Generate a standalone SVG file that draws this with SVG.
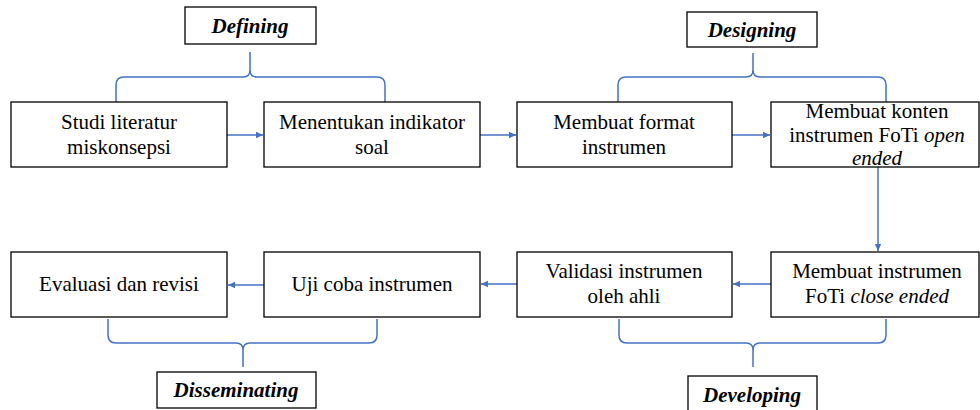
<svg xmlns="http://www.w3.org/2000/svg" width="980" height="410" viewBox="0 0 980 410">
<style>
.box{fill:#fff;stroke:#000;stroke-width:1.3}
.t{font-family:'Liberation Serif',Tinos,'Times New Roman',Times,'DejaVu Serif',serif;font-size:21px;fill:#000;text-anchor:middle}
.h{font-weight:bold;font-style:italic}
.i{font-style:italic}
.c{fill:none;stroke:#4472C4;stroke-width:1.5}
</style>
<defs>
<marker id="ah" markerWidth="8" markerHeight="8" refX="7" refY="4" orient="auto" markerUnits="userSpaceOnUse">
<path d="M0,0.8 L7,4 L0,7.2 Z" fill="#4472C4"/>
</marker>
</defs>
<rect width="980" height="410" fill="#fff"/>
<g id="connectors">
<line class="c" x1="227" y1="135" x2="263" y2="135" marker-end="url(#ah)"/>
<line class="c" x1="480" y1="135" x2="516" y2="135" marker-end="url(#ah)"/>
<line class="c" x1="732" y1="135" x2="770" y2="135" marker-end="url(#ah)"/>
<line class="c" x1="878" y1="167" x2="878" y2="251" marker-end="url(#ah)"/>
<line class="c" x1="771" y1="284" x2="733" y2="284" marker-end="url(#ah)"/>
<line class="c" x1="517" y1="284" x2="481" y2="284" marker-end="url(#ah)"/>
<line class="c" x1="264" y1="285" x2="228" y2="285" marker-end="url(#ah)"/>
<path class="c" d="M116,102 L116,85 Q116,77 124,77 L243,77 Q250,77 250,70 L250,52 M250,70 Q250,77 257,77 L377,77 Q385,77 385,85 L385,102"/>
<path class="c" d="M618,102 L618,85 Q618,77 626,77 L746,77 Q753,77 753,70 L753,53 M753,70 Q753,77 760,77 L878,77 Q886,77 886,85 L886,102"/>
<path class="c" d="M108,319 L108,335 Q108,343 116,343 L236,343 Q243,343 243,350 L243,367 M243,350 Q243,343 250,343 L369,343 Q377,343 377,335 L377,319"/>
<path class="c" d="M619,319 L619,335 Q619,343 627,343 L746,343 Q753,343 753,350 L753,367 M753,350 Q753,343 760,343 L878,343 Q886,343 886,335 L886,319"/>
</g>
<g id="defining">
<rect class="box" x="185" y="7" width="131" height="37"/>
<text class="t h" x="250" y="33">Defining</text>
</g>
<g id="designing">
<rect class="box" x="687" y="12" width="130" height="35"/>
<text class="t h" x="752" y="37">Designing</text>
</g>
<g id="disseminating">
<rect class="box" x="157" y="372" width="159" height="36"/>
<text class="t h" x="236" y="397">Disseminating</text>
</g>
<g id="developing">
<rect class="box" x="688" y="376" width="129" height="40"/>
<text class="t h" x="752" y="402">Developing</text>
</g>
<g id="n1">
<rect class="box" x="11" y="102" width="216" height="65"/>
<text class="t" x="119" y="129">Studi literatur</text>
<text class="t" x="119" y="154">miskonsepsi</text>
</g>
<g id="n2">
<rect class="box" x="264" y="102" width="216" height="65"/>
<text class="t" x="372" y="129">Menentukan indikator</text>
<text class="t" x="372" y="154">soal</text>
</g>
<g id="n3">
<rect class="box" x="517" y="102" width="215" height="65"/>
<text class="t" x="624" y="129">Membuat format</text>
<text class="t" x="624" y="154">instrumen</text>
</g>
<g id="n4">
<rect class="box" x="771" y="102" width="208" height="65"/>
<text class="t" x="877" y="118">Membuat konten</text>
<text class="t" x="877" y="142">instrumen FoTi <tspan class="i">open</tspan></text>
<text class="t i" x="877" y="165">ended</text>
</g>
<g id="n5">
<rect class="box" x="771" y="252" width="208" height="65"/>
<text class="t" x="877" y="278">Membuat instrumen</text>
<text class="t" x="877" y="303">FoTi <tspan class="i">close ended</tspan></text>
</g>
<g id="n6">
<rect class="box" x="517" y="252" width="215" height="65"/>
<text class="t" x="624" y="278">Validasi instrumen</text>
<text class="t" x="624" y="303">oleh ahli</text>
</g>
<g id="n7">
<rect class="box" x="264" y="252" width="216" height="65"/>
<text class="t" x="372" y="291">Uji coba instrumen</text>
</g>
<g id="n8">
<rect class="box" x="11" y="252" width="216" height="65"/>
<text class="t" x="119" y="291">Evaluasi dan revisi</text>
</g>
</svg>
